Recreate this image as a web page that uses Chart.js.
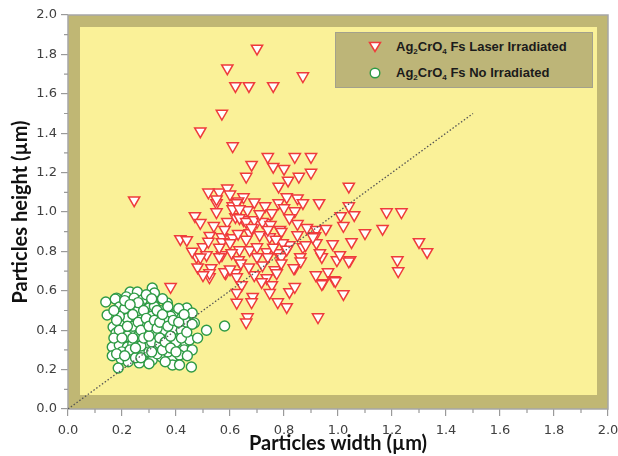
<!DOCTYPE html>
<html>
<head>
<meta charset="utf-8">
<script src="https://cdn.jsdelivr.net/npm/chart.js@4.4.1/dist/chart.umd.min.js"></script>
<style>
  html, body { margin: 0; padding: 0; background: #fff; }
  #wrap { position: relative; width: 618px; height: 456px; }
  #legend {
    position: absolute; left: 335px; top: 32px; width: 256px; height: 54px;
    background: rgb(189, 181, 120); border: 1px solid #a3a18c;
    font-family: "Liberation Sans", Arial, sans-serif; font-weight: bold;
    font-size: 13px; color: #1b1b1b;
  }
  #legend .row { position: absolute; left: 0; height: 18px; line-height: 18px; }
  #legend .row span.txt { position: absolute; left: 60px; white-space: nowrap; }
  #legend svg { position: absolute; left: 32px; top: 2px; }
  #legend sub { font-size: 8px; vertical-align: -3px; line-height: 0; }
</style>
</head>
<body>
<div id="wrap">
  <canvas id="chart" width="618" height="456"></canvas>
  <div id="legend">
    <div class="row" style="top:5px">
      <svg width="14" height="14"><polygon points="1.5,2.5 12.5,2.5 7,11.5" fill="#fff" stroke="#ef3b3b" stroke-width="1.5"/></svg>
      <span class="txt">Ag<sub>2</sub>CrO<sub>4</sub> Fs Laser Irradiated</span>
    </div>
    <div class="row" style="top:31px">
      <svg width="14" height="14"><circle cx="7" cy="7" r="4.8" fill="#fff" stroke="#2e9a44" stroke-width="1.4"/></svg>
      <span class="txt">Ag<sub>2</sub>CrO<sub>4</sub> Fs No Irradiated</span>
    </div>
  </div>
</div>
<script>
// laser irradiated particles (width, height in um)
const laserWidth = [
  0.70, 0.59, 0.62, 0.67, 0.76, 0.87, 0.57, 0.49, 0.61, 0.74, 0.84, 0.90, 0.68, 0.76, 0.80,
  0.66, 0.855, 0.90, 0.815, 0.78, 1.04, 0.52, 0.56, 0.59, 0.60, 0.65, 0.55, 0.55, 0.61, 0.63,
  0.73, 0.81, 0.85, 0.87, 0.93, 0.78, 0.80, 0.84, 1.04, 1.06, 1.01, 1.18, 1.235, 0.47, 0.49,
  0.59, 0.62, 0.665, 0.65, 0.755, 0.82, 0.85, 0.73, 0.70, 1.02, 1.165, 0.55, 0.625, 0.61, 0.635,
  0.635, 0.66, 0.69, 0.72, 0.75, 0.785, 0.885, 0.92, 0.955, 0.525, 0.57, 0.61, 0.673, 0.71, 0.747,
  0.79, 0.85, 0.915, 1.10, 1.30, 1.33, 0.50, 0.57, 0.60, 0.635, 0.673, 0.70, 0.736, 0.777, 0.82,
  0.87, 0.92, 0.98, 1.05, 0.513, 0.57, 0.606, 0.632, 0.70, 0.74, 0.79, 0.86, 0.94, 0.996, 1.045,
  1.22, 1.223, 0.53, 0.584, 0.62, 0.69, 0.766, 0.84, 0.918, 0.963, 0.524, 0.625, 0.736, 0.773, 0.944,
  0.985, 0.643, 0.717, 0.755, 0.625, 0.684, 0.747, 0.82, 0.84, 1.02, 0.625, 0.68, 0.777, 0.81, 0.665,
  0.66, 0.926, 0.795, 0.88, 0.933, 1.007, 1.04, 0.862, 0.836, 0.94, 0.99, 0.907, 0.476, 0.56, 0.524,
  0.58, 0.38, 0.245, 0.416, 0.44, 0.46, 0.48, 0.50, 0.49, 0.54, 0.58, 0.63, 0.66, 0.68, 0.71,
  0.74, 0.77, 0.56, 0.64, 0.67, 0.72, 0.79, 0.81, 0.60, 0.52, 0.69, 0.76
];
const laserHeight = [
  1.83, 1.73, 1.64, 1.64, 1.64, 1.69, 1.50, 1.41, 1.335, 1.28, 1.28, 1.28, 1.24, 1.23, 1.22,
  1.18, 1.18, 1.20, 1.16, 1.13, 1.13, 1.10, 1.10, 1.12, 1.09, 1.076, 1.046, 1.00, 1.03, 1.055,
  1.03, 1.076, 1.07, 1.046, 1.046, 1.046, 1.02, 1.005, 1.03, 0.985, 0.98, 1.00, 1.00, 0.98, 0.945,
  0.95, 0.975, 1.01, 0.96, 0.995, 0.97, 0.94, 0.945, 0.95, 0.93, 0.915, 1.065, 1.046, 1.015, 1.015,
  0.97, 0.95, 0.96, 0.95, 0.935, 0.91, 0.92, 0.91, 0.915, 0.88, 0.873, 0.868, 0.893, 0.883, 0.873,
  0.90, 0.883, 0.878, 0.893, 0.848, 0.797, 0.822, 0.848, 0.843, 0.807, 0.807, 0.822, 0.797, 0.792, 0.832,
  0.822, 0.843, 0.838, 0.848, 0.782, 0.782, 0.792, 0.756, 0.772, 0.772, 0.772, 0.772, 0.772, 0.756, 0.756,
  0.756, 0.70, 0.716, 0.69, 0.69, 0.68, 0.705, 0.716, 0.68, 0.695, 0.67, 0.67, 0.665, 0.69, 0.64,
  0.655, 0.63, 0.645, 0.63, 0.59, 0.57, 0.59, 0.594, 0.62, 0.584, 0.54, 0.543, 0.543, 0.518, 0.467,
  0.44, 0.467, 0.843, 0.832, 0.792, 0.782, 0.75, 0.75, 0.716, 0.635, 0.65, 0.873, 0.772, 0.772, 0.69,
  0.695, 0.62, 1.06, 0.863, 0.858, 0.80, 0.72, 0.68, 0.77, 0.93, 0.91, 0.89, 0.86, 0.92, 0.99,
  0.91, 0.86, 0.82, 0.74, 0.72, 0.73, 0.74, 0.81, 0.71, 0.85, 1.05, 0.82
];

// non irradiated particles
const plainWidth = [
  0.14, 0.18, 0.145, 0.167, 0.164, 0.197, 0.186, 0.175, 0.23, 0.257, 0.312, 0.32, 0.216, 0.245, 0.275,
  0.19, 0.238, 0.264, 0.30, 0.368, 0.216, 0.238, 0.283, 0.32, 0.338, 0.368, 0.44, 0.46, 0.40, 0.42,
  0.20, 0.227, 0.257, 0.30, 0.312, 0.35, 0.383, 0.40, 0.468, 0.513, 0.58, 0.178, 0.208, 0.238, 0.27,
  0.29, 0.33, 0.368, 0.413, 0.43, 0.19, 0.22, 0.257, 0.294, 0.327, 0.364, 0.405, 0.43, 0.46, 0.164,
  0.20, 0.234, 0.264, 0.283, 0.312, 0.346, 0.387, 0.413, 0.442, 0.223, 0.264, 0.387, 0.413, 0.457, 0.25,
  0.27, 0.29, 0.33, 0.35, 0.22, 0.24, 0.31, 0.34, 0.36, 0.28, 0.26, 0.31, 0.38, 0.34, 0.29,
  0.19, 0.21, 0.23, 0.37, 0.39, 0.42, 0.35, 0.26, 0.30, 0.32, 0.24, 0.28, 0.32, 0.36, 0.44,
  0.41, 0.45, 0.25, 0.19, 0.22, 0.27, 0.33, 0.40,
  0.17, 0.18, 0.17, 0.18, 0.21, 0.22, 0.24, 0.24, 0.25, 0.26, 0.26, 0.27, 0.28, 0.28, 0.29,
  0.30, 0.30, 0.31, 0.31, 0.32, 0.33, 0.33, 0.34, 0.34, 0.35, 0.35, 0.36, 0.37, 0.37, 0.38,
  0.38, 0.39, 0.40, 0.41, 0.42, 0.43, 0.44, 0.46, 0.23, 0.20, 0.21, 0.27, 0.30, 0.36, 0.48
];
const plainHeight = [
  0.543, 0.563, 0.477, 0.416, 0.315, 0.254, 0.208, 0.558, 0.594, 0.594, 0.614, 0.589, 0.569, 0.563, 0.553,
  0.518, 0.528, 0.528, 0.513, 0.538, 0.492, 0.487, 0.492, 0.528, 0.487, 0.508, 0.513, 0.487, 0.477, 0.462,
  0.442, 0.426, 0.416, 0.442, 0.40, 0.426, 0.437, 0.416, 0.437, 0.40, 0.421, 0.386, 0.365, 0.376, 0.386,
  0.36, 0.365, 0.35, 0.365, 0.335, 0.325, 0.315, 0.31, 0.315, 0.31, 0.315, 0.31, 0.30, 0.30, 0.27,
  0.29, 0.274, 0.29, 0.249, 0.249, 0.264, 0.264, 0.274, 0.27, 0.24, 0.234, 0.223, 0.223, 0.213, 0.45,
  0.47, 0.40, 0.45, 0.38, 0.46, 0.33, 0.34, 0.33, 0.40, 0.28, 0.50, 0.47, 0.47, 0.50, 0.58,
  0.40, 0.51, 0.30, 0.29, 0.40, 0.40, 0.56, 0.37, 0.29, 0.39, 0.42, 0.44, 0.52, 0.45, 0.44,
  0.51, 0.35, 0.26, 0.47, 0.37, 0.32, 0.28, 0.34,
  0.50, 0.45, 0.36, 0.28, 0.55, 0.42, 0.48, 0.36, 0.31, 0.44, 0.54, 0.40, 0.36, 0.50, 0.46,
  0.37, 0.42, 0.56, 0.29, 0.45, 0.41, 0.50, 0.36, 0.44, 0.30, 0.48, 0.34, 0.42, 0.52, 0.37,
  0.31, 0.45, 0.29, 0.44, 0.36, 0.48, 0.39, 0.43, 0.53, 0.36, 0.27, 0.26, 0.23, 0.24, 0.36
];

// dotted reference line y = x
const refLineX = [0, 1.5];
const refLineY = [0, 1.5];

const axisMin = 0;
const axisMax = 2.0;
const majorTicks = [0, 0.2, 0.4, 0.6, 0.8, 1.0, 1.2, 1.4, 1.6, 1.8, 2.0];
const minorTicks = [0.1, 0.3, 0.5, 0.7, 0.9, 1.1, 1.3, 1.5, 1.7, 1.9];

const zip = (xs, ys) => xs.map((x, i) => ({ x: x, y: ys[i] }));

// khaki frame with yellow inner panel
const framePlugin = {
  id: "frame",
  beforeDatasetsDraw(chart) {
    const { ctx, chartArea: a } = chart;
    ctx.save();
    ctx.fillStyle = "rgb(192, 183, 116)";
    ctx.fillRect(a.left, a.top, a.right - a.left, a.bottom - a.top);
    ctx.fillStyle = "rgb(250, 241, 152)";
    ctx.fillRect(a.left + 12, a.top + 12, a.right - a.left - 23, a.bottom - a.top - 26);
    ctx.strokeStyle = "#a6a6a6";
    ctx.lineWidth = 1.5;
    ctx.strokeRect(a.left, a.top, a.right - a.left, a.bottom - a.top);
    ctx.restore();
  },
  afterDraw(chart) {
    // shorter minor ticks
    const { ctx, chartArea: a } = chart;
    const xs = chart.scales.x, ys = chart.scales.y;
    ctx.save();
    ctx.strokeStyle = "#9a9a9a";
    ctx.lineWidth = 1.2;
    ctx.beginPath();
    minorTicks.forEach((v) => {
      const px = xs.getPixelForValue(v);
      ctx.moveTo(px, a.bottom);
      ctx.lineTo(px, a.bottom + 4);
      const py = ys.getPixelForValue(v);
      ctx.moveTo(a.left, py);
      ctx.lineTo(a.left - 4, py);
    });
    ctx.stroke();
    ctx.restore();
  },
};

const tickFont = { family: "'DejaVu Sans', Verdana, sans-serif", size: 13 };
const titleFont = { family: "Lato, 'Open Sans', sans-serif", size: 20, weight: "bold" };

function axis(title, fitKey, fitSize, tickPad, titlePad) {
  return {
    type: "linear",
    min: axisMin,
    max: axisMax,
    afterBuildTicks: (s) => { s.ticks = majorTicks.map((v) => ({ value: v })); },
    afterFit: (s) => {
      s[fitKey] = fitSize;
      if (fitKey === "height") { s.paddingLeft = 0; s.paddingRight = 10; }
      else { s.paddingTop = 15; s.paddingBottom = 0; }
    },
    border: { display: false },
    grid: { drawOnChartArea: false, tickLength: 7, color: "#9a9a9a", lineWidth: 1.2 },
    ticks: {
      color: "#404040",
      font: tickFont,
      padding: tickPad,
      autoSkip: false,
      maxRotation: 0,
      callback: (v) => v.toFixed(1),
    },
    title: { display: true, text: title, color: "#111", font: titleFont, padding: titlePad },
  };
}

new Chart(document.getElementById("chart"), {
  type: "scatter",
  data: {
    datasets: [
      {
        type: "line",
        label: "y = x",
        data: zip(refLineX, refLineY),
        borderColor: "#555",
        borderWidth: 1.3,
        borderDash: [1.5, 2],
        pointRadius: 0,
        fill: false,
      },
      {
        label: "Ag2CrO4 Fs Laser Irradiated",
        data: zip(laserWidth, laserHeight),
        pointStyle: "triangle",
        rotation: 180,
        pointRadius: 6.5,
        borderColor: "#ef3b3b",
        backgroundColor: "#ffffff",
        borderWidth: 1.5,
      },
      {
        label: "Ag2CrO4 Fs No Irradiated",
        data: zip(plainWidth, plainHeight),
        pointStyle: "circle",
        pointRadius: 5,
        borderColor: "#2e9a44",
        backgroundColor: "#ffffff",
        borderWidth: 1.4,
      },
    ],
  },
  options: {
    responsive: false,
    animation: false,
    layout: { padding: 0 },
    plugins: { legend: { display: false }, tooltip: { enabled: false } },
    scales: {
      x: axis("Particles width (\u00b5m)", "height", 47, 7, { top: 0, bottom: 0 }),
      y: axis("Particles height (\u00b5m)", "width", 68, 4, { top: 9, bottom: 0 }),
    },
  },
  plugins: [framePlugin],
});
</script>
</body>
</html>
